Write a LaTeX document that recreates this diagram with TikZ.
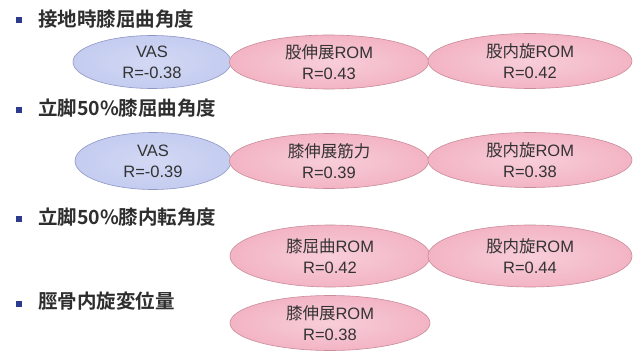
\documentclass[tikz,border=0pt]{standalone}
\usepackage{fontspec}
\setmainfont{Liberation Sans}
\newfontfamily\cjk{Noto Sans CJK JP}
\newfontfamily\cjkb{Noto Sans CJK JP Bold}
\usetikzlibrary{shapes.geometric}
\definecolor{bluefill}{HTML}{C4CCF0}
\definecolor{blueedge}{HTML}{8E97C4}
\definecolor{pinkfill}{HTML}{F3B4C4}
\definecolor{pinkedge}{HTML}{C98C9A}
\definecolor{headtext}{HTML}{2E2E2E}
\definecolor{bulletcol}{HTML}{2D3B8E}
\tikzset{
  oval/.style={ellipse, inner sep=0pt, align=center, font=\fontsize{16.5}{21}\selectfont, text=black!80},
  blueoval/.style={oval, draw=blueedge, inner color=bluefill!75!white, outer color=bluefill, line width=0.6pt},
  pinkoval/.style={oval, draw=pinkedge, inner color=pinkfill!65!white, outer color=pinkfill, line width=0.6pt},
  head/.style={anchor=west, inner sep=0pt, font=\cjkb\fontsize{19.5}{22}\selectfont, text=headtext},
  bul/.style={fill=bulletcol, minimum size=6pt, inner sep=0pt}
}
\begin{document}
\begin{tikzpicture}[x=1pt,y=-1pt]
\useasboundingbox[fill=white] (0,0) rectangle (643,351);
% headings
\node[bul] (b1) at (19,20) {};
\node[head] (h1) at (38,19) {接地時膝屈曲角度};
\node[bul] (b2) at (19,110) {};
\node[head] (h2) at (38,108) {立脚50\%膝屈曲角度};
\node[bul] (b3) at (19,219) {};
\node[head] (h3) at (38,217) {立脚50\%膝内転角度};
\node[bul] (b4) at (19,304) {};
\node[head] (h4) at (38,301) {脛骨内旋変位量};
% row 1
\node[blueoval, minimum width=158pt, minimum height=53pt] (r1a) at (152,62) {VAS\\R=-0.38};
\node[pinkoval, minimum width=199pt, minimum height=54pt] (r1b) at (329,62) {{\cjk 股伸展}ROM\\R=0.43};
\node[pinkoval, minimum width=204pt, minimum height=55pt] (r1c) at (530,61) {{\cjk 股内旋}ROM\\R=0.42};
% row 2
\node[blueoval, minimum width=156pt, minimum height=57pt] (r2a) at (153,161) {VAS\\R=-0.39};
\node[pinkoval, minimum width=199pt, minimum height=55pt] (r2b) at (329,161) {{\cjk 膝伸展筋力}\\R=0.39};
\node[pinkoval, minimum width=204pt, minimum height=55pt] (r2c) at (530,160) {{\cjk 股内旋}ROM\\R=0.38};
% row 3
\node[pinkoval, minimum width=200pt, minimum height=62pt] (r3a) at (330,256) {{\cjk 膝屈曲}ROM\\R=0.42};
\node[pinkoval, minimum width=204pt, minimum height=62pt] (r3b) at (530,256) {{\cjk 股内旋}ROM\\R=0.44};
% row 4
\node[pinkoval, minimum width=200pt, minimum height=55pt] (r4a) at (330,323) {{\cjk 膝伸展}ROM\\R=0.38};
\end{tikzpicture}
\end{document}
